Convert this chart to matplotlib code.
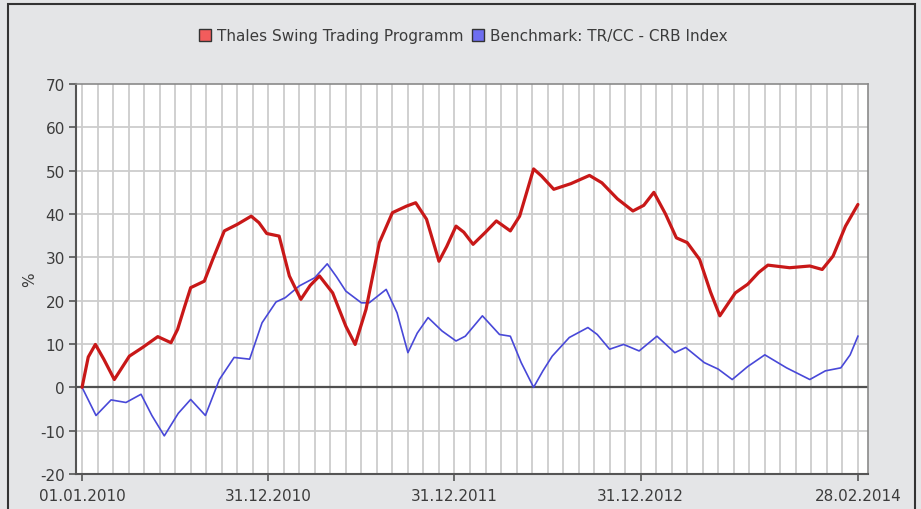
import numpy as np
import matplotlib
matplotlib.use('Agg')
import matplotlib.pyplot as plt
from matplotlib.patches import Patch, Rectangle

plt.rcParams['axes.unicode_minus'] = False

# months since 01.01.2010 at the turning points
thales_month = [0, 0.4, 0.86, 1.4, 2.08, 3.05, 3.9, 4.88, 5.73, 6.16, 6.6, 7.0, 7.88, 8.42, 9.17,
                10.0, 10.9, 11.4, 11.9, 12.7, 13.36, 14.1, 14.7, 15.3, 16.15, 17.0, 17.6, 18.3,
                19.16, 20.0, 20.9, 21.5, 22.2, 23.0, 23.5, 24.1, 24.6, 25.2, 26.0, 26.7, 27.6, 28.2,
                29.1, 29.6, 30.4, 31.5, 32.7, 33.5, 34.5, 35.5, 36.2, 36.85, 37.6, 38.3, 39.0, 39.8,
                40.5, 41.1, 42.1, 42.9, 43.6, 44.2, 45.6, 46.9, 47.7, 48.4, 49.2, 50.0]
thales_pct = [0, 7.0, 9.9, 6.5, 1.8, 7.2, 9.2, 11.7, 10.3, 13.4, 18.5, 23.0, 24.5, 29.5, 36.1,
              37.6, 39.5, 38.0, 35.5, 34.9, 25.7, 20.3, 23.5, 25.7, 21.8, 14.1, 9.9, 18.0,
              33.4, 40.3, 41.8, 42.6, 38.8, 29.1, 32.5, 37.2, 35.8, 33.0, 35.8, 38.4, 36.1, 39.5,
              50.4, 48.8, 45.7, 47.0, 48.9, 47.2, 43.5, 40.7, 42.0, 45.0, 40.0, 34.5, 33.4, 29.5,
              22.0, 16.5, 21.8, 23.8, 26.5, 28.2, 27.6, 28.0, 27.2, 30.3, 37.2, 42.2]

crb_month = [0, 0.9, 1.87, 2.83, 3.8, 4.5, 5.3, 6.2, 7.0, 7.95, 8.85, 9.8, 10.8, 11.6,
             12.5, 13.1, 14.0, 15.0, 15.8, 16.4, 17.0, 18.0, 18.5, 19.6, 20.3, 21.0,
             21.6, 22.3, 23.2, 24.1, 24.7, 25.8, 26.9, 27.6, 28.3, 29.1, 29.7, 30.3, 31.4, 32.6,
             33.2, 34.0, 34.9, 35.9, 37.05, 38.2, 38.9, 40.1, 41.0, 41.9, 42.9, 44.0,
             45.4, 46.9, 47.9, 48.9, 49.5, 50.0]
crb_pct = [0, -6.5, -2.9, -3.5, -1.6, -6.5, -11.2, -6.0, -2.8, -6.5, 1.8, 6.9, 6.5, 14.9,
           19.7, 20.7, 23.4, 25.3, 28.5, 25.5, 22.2, 19.5, 19.5, 22.6, 17.2, 8.0,
           12.5, 16.1, 13.0, 10.7, 11.8, 16.5, 12.2, 11.8, 5.7, 0, 3.8, 7.2, 11.5, 13.8,
           12.2, 8.8, 9.9, 8.4, 11.8, 8.0, 9.2, 5.7, 4.2, 1.8, 4.8, 7.5,
           4.5, 1.8, 3.8, 4.5, 7.5, 11.8]

tick_months = [0, 12, 24, 36, 50]
tick_labels = ['01.01.2010', '31.12.2010', '31.12.2011', '31.12.2012', '28.02.2014']

bg = '#e4e5e7'
text_col = '#3c3c3c'

fig = plt.figure(figsize=(9.21, 5.10), dpi=100, facecolor=bg)
fig.patches.append(Rectangle((8 / 921, -0.05), 907 / 921, 1 - 5 / 510 + 0.05,
                             transform=fig.transFigure, fill=False,
                             edgecolor='#333333', linewidth=1.5))

ax = fig.add_axes([76 / 921, 1 - 475 / 510, (868 - 76) / 921, (475 - 85) / 510])
ax.set_facecolor('white')

for m in range(0, 51):
    ax.axvline(m, color='#cdcdcd', linewidth=1.3, zorder=1)
for v in range(-10, 70, 10):
    ax.axhline(v, color='#cdcdcd', linewidth=1.3, zorder=1)
ax.axhline(0, color='#505050', linewidth=1.6, zorder=2)

ax.plot(crb_month, crb_pct, color='#4848d8', linewidth=1.2, zorder=3,
        solid_joinstyle='round')
ax.plot(thales_month, thales_pct, color='#c81818', linewidth=2.3, zorder=4,
        solid_joinstyle='round', solid_capstyle='round')

ax.set_xlim(-0.39, 50.65)
ax.set_ylim(-20, 70)
ax.set_xticks(tick_months)
ax.set_xticklabels(tick_labels)
ax.set_yticks(range(-20, 71, 10))
ax.tick_params(axis='both', direction='out', length=5, width=1.2,
               color='#555555', labelcolor=text_col, labelsize=11)
ax.tick_params(axis='x', pad=5)
ax.tick_params(axis='y', pad=3)
ax.set_ylabel('%', color=text_col, fontsize=11, labelpad=2)

for side in ['left', 'bottom']:
    ax.spines[side].set_color('#555555')
    ax.spines[side].set_linewidth(1.5)
for side in ['top', 'right']:
    ax.spines[side].set_color('#8a8a8a')
    ax.spines[side].set_linewidth(1.2)

handles = [Patch(facecolor='#f25c5c', edgecolor='#333333', linewidth=1.0),
           Patch(facecolor='#6e6ef0', edgecolor='#333333', linewidth=1.0)]
fig.legend(handles, ['Thales Swing Trading Programm', 'Benchmark: TR/CC - CRB Index'],
           loc='center', bbox_to_anchor=(0.503, 1 - 37 / 510), ncol=2, frameon=False,
           handlelength=0.8, handleheight=0.8, handletextpad=0.4, columnspacing=0.5,
           fontsize=11, labelcolor=text_col)

fig.savefig('out.png', dpi=100, facecolor=bg)
